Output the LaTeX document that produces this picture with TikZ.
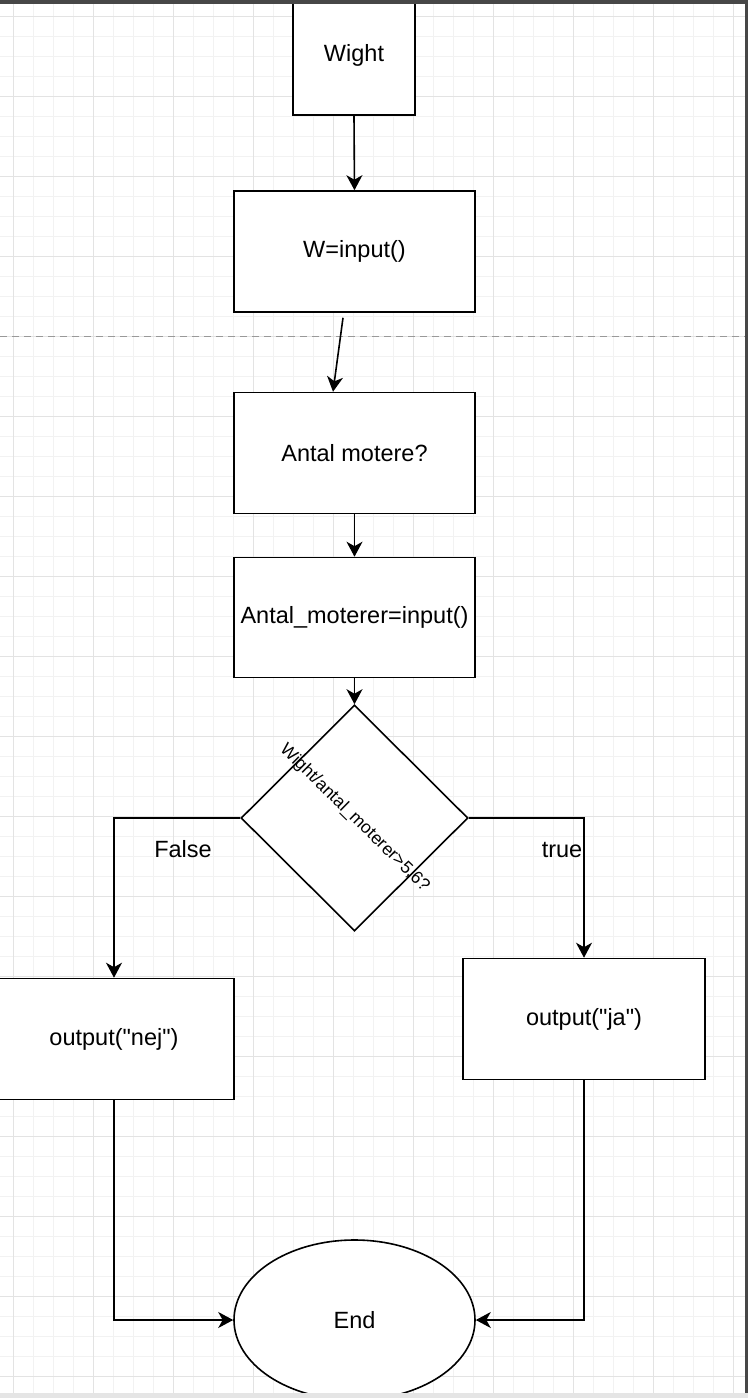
\documentclass[tikz,border=0pt]{standalone}
\usepackage{fontspec}
\setmainfont{Liberation Sans}
\usetikzlibrary{shapes.geometric,arrows.meta}
\begin{document}
\begin{tikzpicture}[x=1pt,y=-1pt,
  box/.style={draw=black,line width=1.6pt,fill=white,rectangle,inner sep=0pt,font=\fontsize{23.5}{28}\selectfont},
  arr/.style={line width=1.6pt,-{Stealth[length=15pt,width=16pt,inset=4.5pt]}},
  lbl/.style={font=\fontsize{23.5}{28}\selectfont,inner sep=0pt},
  minorgrid/.style={black!5,line width=1pt},
  majorgrid/.style={black!11,line width=1pt}]
\useasboundingbox (0,0) rectangle (748,1398);
\clip (0,0) rectangle (748,1398);
\fill[white] (0,0) rectangle (748,1398);
% grid
\foreach \i in {-1,...,37} \draw[minorgrid] ({13+20*\i},0) -- ({13+20*\i},1398);
\foreach \i in {-1,...,70} \draw[minorgrid] (0,{16+20*\i}) -- (748,{16+20*\i});
\foreach \i in {0,...,9} \draw[majorgrid] ({13+80*\i},0) -- ({13+80*\i},1398);
\foreach \i in {0,...,17} \draw[majorgrid] (0,{16+80*\i}) -- (748,{16+80*\i});
% page break
\draw[black!40,line width=1pt,dash pattern=on 7pt off 5pt] (0,336) -- (748,336);
% nodes
\node[box,minimum width=122pt,minimum height=120pt] (wight) at (354,55) {Wight};
\node[box,minimum width=241pt,minimum height=121pt] (winput) at (354.5,251.5) {W=input()};
\node[box,minimum width=241pt,minimum height=121pt] (antal) at (354.5,453) {Antal motere?};
\node[box,minimum width=241pt,minimum height=120pt] (antalin) at (354.5,617.5) {Antal\_moterer=input()};
\node[draw=black,line width=1.6pt,fill=white,diamond,inner sep=0pt,minimum width=227pt,minimum height=226pt] (dec) at (354.5,818) {};
\node[rotate=-44.5,font=\fontsize{17.5}{20}\selectfont,inner sep=0pt] (dectext) at (dec.center) {Wight/antal\_moterer>5,6?};
\node[box,minimum width=240pt,minimum height=121pt] (nej) at (114,1039) {output(\textquotedbl nej\textquotedbl)};
\node[box,minimum width=242pt,minimum height=121pt] (ja) at (584,1019) {output(\textquotedbl ja\textquotedbl)};
\node[draw=black,line width=1.6pt,fill=white,ellipse,inner sep=0pt,minimum width=241pt,minimum height=160pt,font=\fontsize{23.5}{28}\selectfont] (end) at (354.5,1320) {End};
% connectors
\draw[arr] (wight.south) -- (winput.north);
\draw[arr] ([xshift=-11.5pt,yshift=-5pt]winput.south) -- ([xshift=-21.5pt]antal.north);
\draw[arr] (antal.south) -- (antalin.north);
\draw[arr] (antalin.south) -- (dec.north);
\draw[arr] (dec.west) -| (nej.north);
\draw[arr] (dec.east) -| (ja.north);
\draw[arr] (nej.south) |- (end.west);
\draw[arr] (ja.south) |- (end.east);
% labels
\node[lbl] (lfalse) at (183,849) {False};
\node[lbl] (ltrue) at (562,850) {true};
% window frame
\fill[black!72] (0,0) rectangle (748,4);
\fill[black!72] (745,0) rectangle (748,1393);
\fill[black!10] (0,1393) rectangle (748,1398);
\end{tikzpicture}
\end{document}
